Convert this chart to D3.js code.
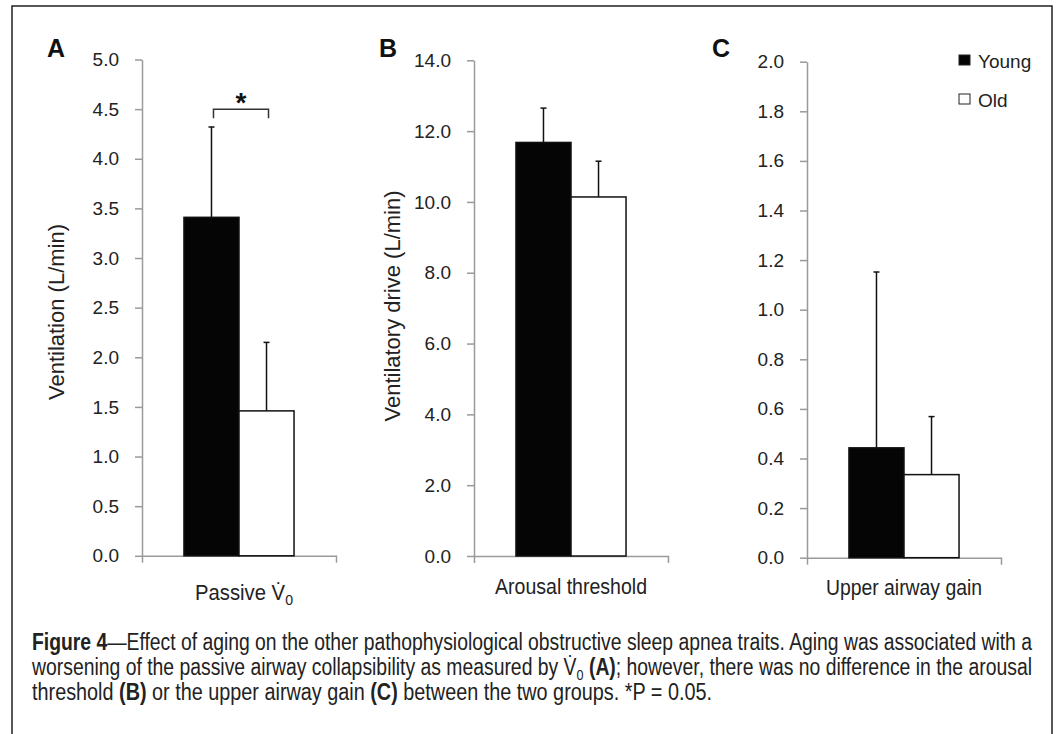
<!DOCTYPE html>
<html>
<head>
<meta charset="utf-8">
<script src="https://cdn.jsdelivr.net/npm/d3@7"></script>
<style>
  body { margin: 0; background: #fff; }
  svg { display: block; font-family: "Liberation Sans", Arial, sans-serif; }
</style>
</head>
<body>
<svg id="chart" width="1058" height="734"></svg>
<script>
// data
const panelLetters = ["A", "B", "C"];
const categories = ["Passive V0", "Arousal threshold", "Upper airway gain"];
const groups = ["Young", "Old"];
const youngMeans = [3.41, 11.68, 0.443];
const youngErrors = [0.91, 0.97, 0.709];
const oldMeans = [1.46, 10.14, 0.335];
const oldErrors = [0.69, 1.01, 0.234];
const yMaxes = [5, 14, 2];
const yTickSteps = [0.5, 2, 0.2];
const yTitles = ["Ventilation (L/min)", "Ventilatory drive (L/min)", ""];
const sigLevel = 4.5;   // bracket height in panel A

const width = 1058;
const height = 734;
const svg = d3.select("#chart");

// layout of the three panels
const axisX = [142, 474, 807];
const plotW = 194;
const plotTop = [59.5, 60.3, 61.7];
const plotBottom = [555.8, 556, 557.7];
const labelY = [600, 594, 595];
const labelW = [98, 152, 156];
const titleX = [64, 400];
const titleY = [312, 306];
const ink = "#222";
const axisGrey = "#9a9a9a";

// outer frame
svg.append("rect")
    .attr("x", 12).attr("y", 6)
    .attr("width", 1040).attr("height", 780)
    .attr("fill", "none")
    .attr("stroke", ink)
    .attr("stroke-width", 1.5);

panelLetters.forEach((letter, i) => {

    const g = svg.append("g")
        .attr("transform", `translate(${axisX[i]},0)`);

    const y = d3.scaleLinear()
        .domain([0, yMaxes[i]])
        .range([plotBottom[i], plotTop[i]]);

    const x = d3.scaleBand()
        .domain([categories[i]])
        .range([0, plotW])
        .padding(0.276);

    const xg = d3.scaleBand()
        .domain(groups)
        .range([0, x.bandwidth()]);

    // y axis
    const yAxis = d3.axisLeft(y)
        .tickValues(d3.range(0, yMaxes[i] + yTickSteps[i] / 2, yTickSteps[i]))
        .tickFormat(d3.format(".1f"))
        .tickSize(7)
        .tickSizeOuter(0)
        .tickPadding(16);

    const ya = g.append("g").call(yAxis);
    ya.selectAll("path, line").attr("stroke", axisGrey).attr("stroke-width", 1.5);
    ya.selectAll("text").attr("fill", ink).attr("font-size", 19);

    // x axis, only the end ticks
    const xa = g.append("g")
        .attr("transform", `translate(0,${plotBottom[i]})`)
        .call(d3.axisBottom(x).tickSizeInner(0).tickSizeOuter(7).tickFormat(""));
    xa.selectAll("path").attr("stroke", axisGrey).attr("stroke-width", 1.5);

    const rows = groups.map((grp, j) => ({
        group: grp,
        mean: j === 0 ? youngMeans[i] : oldMeans[i],
        err: j === 0 ? youngErrors[i] : oldErrors[i]
    }));

    const cx = d => x(categories[i]) + xg(d.group) + xg.bandwidth() / 2;

    // error bars (upper only)
    g.selectAll("line.err")
        .data(rows)
        .enter()
        .append("line")
        .attr("x1", cx).attr("x2", cx)
        .attr("y1", d => y(d.mean))
        .attr("y2", d => y(d.mean + d.err))
        .attr("stroke", "#111")
        .attr("stroke-width", 1.5);

    g.selectAll("line.cap")
        .data(rows)
        .enter()
        .append("line")
        .attr("x1", d => cx(d) - 3).attr("x2", d => cx(d) + 3)
        .attr("y1", d => y(d.mean + d.err))
        .attr("y2", d => y(d.mean + d.err))
        .attr("stroke", "#111")
        .attr("stroke-width", 1.5);

    // bars
    g.selectAll("rect.bar")
        .data(rows)
        .enter()
        .append("rect")
        .attr("x", d => x(categories[i]) + xg(d.group))
        .attr("y", d => y(d.mean))
        .attr("width", xg.bandwidth())
        .attr("height", d => plotBottom[i] - y(d.mean))
        .attr("fill", d => d.group === "Young" ? "#050505" : "#fff")
        .attr("stroke", "#111")
        .attr("stroke-width", 1.5);

    // category label (slightly condensed like the original)
    const label = g.append("text")
        .attr("x", x(categories[i]) + x.bandwidth() / 2 + (i === 0 ? 5 : 0))
        .attr("y", labelY[i])
        .attr("text-anchor", "middle")
        .attr("font-size", 21.5)
        .attr("fill", ink)
        .attr("textLength", labelW[i])
        .attr("lengthAdjust", "spacingAndGlyphs");
    if (i === 0) {
        label.append("tspan").text("Passive V\u0307");
        label.append("tspan").attr("font-size", 15).attr("dy", 5).text("0");
    } else {
        label.text(categories[i]);
    }

    // panel letter
    svg.append("text")
        .attr("x", axisX[i] - 95)
        .attr("y", 57)
        .attr("font-size", 25)
        .attr("font-weight", "bold")
        .attr("fill", "#111")
        .text(letter);

    // y title
    if (yTitles[i]) {
        svg.append("text")
            .attr("transform", `translate(${titleX[i]},${titleY[i]}) rotate(-90)`)
            .attr("text-anchor", "middle")
            .attr("font-size", 22)
            .attr("fill", ink)
            .text(yTitles[i]);
    }

    // significance bracket in panel A
    if (i === 0) {
        const x1 = cx(rows[0]) + 2;
        const x2 = cx(rows[1]) + 2;
        const yb = y(sigLevel);
        g.append("path")
            .attr("d", `M${x1},${yb + 9}V${yb}H${x2}V${yb + 9}`)
            .attr("fill", "none")
            .attr("stroke", "#333")
            .attr("stroke-width", 1.5);
        g.append("text")
            .attr("x", (x1 + x2) / 2)
            .attr("y", yb + 3)
            .attr("text-anchor", "middle")
            .attr("font-size", 28)
            .attr("font-weight", "bold")
            .attr("fill", "#111")
            .text("*");
    }
});

// legend
const legend = svg.append("g").attr("transform", "translate(959,55)");
groups.forEach((grp, j) => {
    legend.append("rect")
        .attr("x", 0).attr("y", j * 39)
        .attr("width", 11).attr("height", 10)
        .attr("fill", grp === "Young" ? "#050505" : "#fff")
        .attr("stroke", "#222")
        .attr("stroke-width", 1);
    legend.append("text")
        .attr("x", 19).attr("y", j * 39 + 13)
        .attr("font-size", 19)
        .attr("fill", ink)
        .text(grp);
});

// caption
const caption = [
    [["b", "Figure 4"], ["n", "\u2014Effect of aging on the other pathophysiological obstructive sleep apnea traits. Aging was associated with a"]],
    [["n", "worsening of the passive airway collapsibility as measured by V\u0307"], ["s", "0"], ["n", " "], ["b", "(A)"], ["n", "; however, there was no difference in the arousal"]],
    [["n", "threshold "], ["b", "(B)"], ["n", " or the upper airway gain "], ["b", "(C)"], ["n", " between the two groups. *P = 0.05."]]
];
const captionWidths = [1000, 1000, 680];

caption.forEach((parts, k) => {
    const t = svg.append("text")
        .attr("x", 32)
        .attr("y", 650 + k * 25)
        .attr("font-size", 23)
        .attr("fill", ink)
        .attr("textLength", captionWidths[k])
        .attr("lengthAdjust", "spacingAndGlyphs");
    let shifted = false;
    parts.forEach(([kind, str]) => {
        const ts = t.append("tspan").text(str);
        if (kind === "b") ts.attr("font-weight", "bold");
        if (kind === "s") { ts.attr("font-size", 15).attr("dy", 5); shifted = true; }
        else if (shifted) { ts.attr("dy", -5); shifted = false; }
    });
});
</script>
</body>
</html>
